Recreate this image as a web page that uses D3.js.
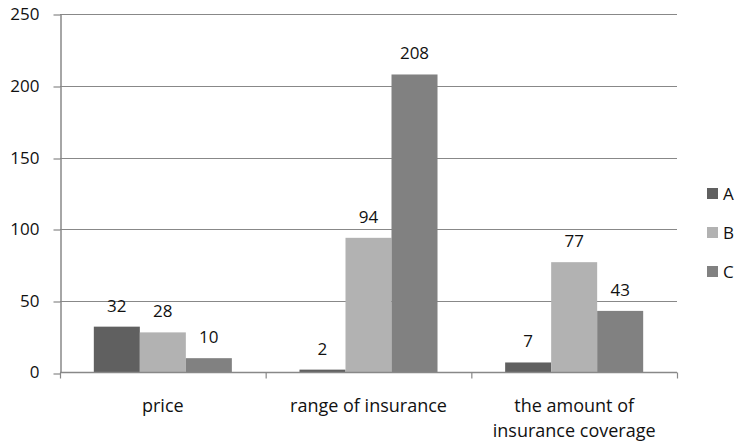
<!DOCTYPE html>
<html>
<head>
<meta charset="utf-8">
<script src="https://cdn.jsdelivr.net/npm/d3@7"></script>
<style>
  html, body { margin: 0; padding: 0; background: #fff; }
  svg { display: block; }
  text { font-family: "Open Sans", "DejaVu Sans", sans-serif; fill: #111; }
</style>
</head>
<body>
<svg id="chart" width="739" height="446"></svg>
<script>
// Categories, series and values
const categories = [["price"], ["range of insurance"], ["the amount of", "insurance coverage"]];
const seriesNames = ["A", "B", "C"];
const seriesColors = ["#606060", "#b2b2b2", "#818181"];
const valuesA = [32, 2, 7];
const valuesB = [28, 94, 77];
const valuesC = [10, 208, 43];
const yTicks = [0, 50, 100, 150, 200, 250];

const series = [valuesA, valuesB, valuesC];

const svg = d3.select("#chart");
const plotLeft = 60, plotRight = 677, plotTop = 14.3, plotBottom = 372.5;

const x0 = d3.scaleBand().domain(d3.range(categories.length)).range([plotLeft, plotRight]).paddingInner(0).paddingOuter(0);
const x1 = d3.scaleBand().domain(d3.range(seriesNames.length)).range([0, x0.bandwidth()]).paddingInner(0).paddingOuter(0.735);
const y = d3.scaleLinear().domain([0, 250]).range([plotBottom, plotTop]);

const axisColor = "#888888";

// Horizontal gridlines
svg.append("g")
  .selectAll("line")
  .data(yTicks.filter(t => t > 0))
  .join("line")
  .attr("x1", plotLeft).attr("x2", plotRight)
  .attr("y1", d => Math.round(y(d)) + 0.5).attr("y2", d => Math.round(y(d)) + 0.5)
  .attr("stroke", axisColor).attr("stroke-width", 1.2);

// Y axis
const yAxis = svg.append("g")
  .attr("transform", `translate(${plotLeft + 0.5},0)`)
  .call(d3.axisLeft(y).tickValues(yTicks).tickSize(7).tickPadding(14).tickSizeOuter(0));
yAxis.select(".domain").attr("stroke", axisColor).attr("stroke-width", 1.5);
yAxis.selectAll(".tick line").attr("stroke", axisColor).attr("stroke-width", 1.2)
  .attr("transform", d => `translate(0,${Math.round(y(d)) + 0.5 - y(d)})`);
yAxis.selectAll(".tick text").attr("font-size", 17).attr("fill", "#111")
  .style("font-family", '"Open Sans", sans-serif');

// Bars
const groups = svg.append("g")
  .selectAll("g")
  .data(categories.map((c, i) => i))
  .join("g")
  .attr("transform", i => `translate(${x0(i)},0)`);

groups.selectAll("rect")
  .data(i => series.map((s, k) => ({ k, v: s[i] })))
  .join("rect")
  .attr("x", d => x1(d.k))
  .attr("width", x1.bandwidth())
  .attr("y", d => y(d.v))
  .attr("height", d => y(0) - y(d.v))
  .attr("fill", d => seriesColors[d.k]);

// Value labels
groups.selectAll("text.val")
  .data(i => series.map((s, k) => ({ k, v: s[i] })))
  .join("text")
  .attr("class", "val")
  .attr("x", d => x1(d.k) + x1.bandwidth() / 2)
  .attr("y", d => y(d.v) - 15)
  .attr("text-anchor", "middle")
  .attr("font-size", 17)
  .text(d => d.v);

// X axis baseline and category ticks
const xAxisG = svg.append("g");
xAxisG.append("line")
  .attr("x1", plotLeft).attr("x2", plotRight)
  .attr("y1", plotBottom).attr("y2", plotBottom)
  .attr("stroke", axisColor).attr("stroke-width", 1.5);
xAxisG.selectAll("line.tick")
  .data(d3.range(categories.length + 1))
  .join("line")
  .attr("class", "tick")
  .attr("x1", i => (i < categories.length ? x0(i) : plotRight) + 0.5)
  .attr("x2", i => (i < categories.length ? x0(i) : plotRight) + 0.5)
  .attr("y1", plotBottom).attr("y2", plotBottom + 6)
  .attr("stroke", axisColor).attr("stroke-width", 1.2);

// Category labels
svg.append("g")
  .selectAll("text")
  .data(categories.map((c, i) => ({ c, i })))
  .join("text")
  .attr("x", d => x0(d.i) + x0.bandwidth() / 2)
  .attr("y", 412)
  .attr("text-anchor", "middle")
  .attr("font-size", 18)
  .each(function (d) {
    d3.select(this).selectAll("tspan")
      .data(d.c)
      .join("tspan")
      .attr("x", x0(d.i) + x0.bandwidth() / 2)
      .attr("dy", (t, j) => j === 0 ? 0 : 25)
      .text(t => t);
  });

// Legend
const legend = svg.append("g")
  .selectAll("g")
  .data(seriesNames.map((n, k) => ({ n, k })))
  .join("g")
  .attr("transform", d => `translate(707,${188 + d.k * 39})`);
legend.append("rect")
  .attr("width", 11).attr("height", 11)
  .attr("fill", d => seriesColors[d.k]);
legend.append("text")
  .attr("x", 16).attr("y", 11.5)
  .attr("font-size", 17)
  .text(d => d.n);
</script>
</body>
</html>
